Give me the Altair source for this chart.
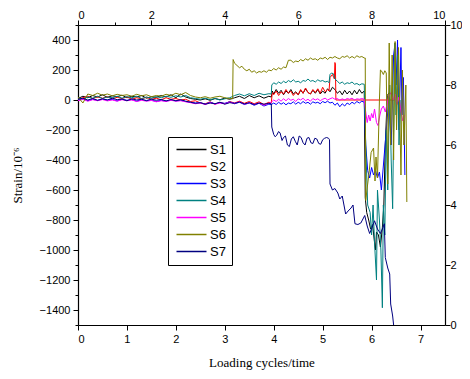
import altair as alt
import pandas as pd

NAMES = ["S1", "S2", "S3", "S4", "S5", "S6", "S7"]
COLORS = ["#000000", "#FF0000", "#0000FF", "#008080", "#FF00FF", "#808000", "#000080"]

XE = [0.0, 0.1, 0.2, 0.3, 0.4, 0.5, 0.6, 0.7, 0.8, 0.9,
      1.0, 1.1, 1.2, 1.3, 1.4, 1.5, 1.6, 1.7, 1.8, 1.9,
      2.0, 2.1, 2.2, 2.3, 2.4, 2.5, 2.6, 2.7, 2.8, 2.9,
      3.0, 3.1, 3.2, 3.3, 3.4, 3.5, 3.6, 3.7, 3.8, 3.9]
XM = [4.0, 4.05, 4.1, 4.15, 4.2, 4.25, 4.3, 4.35, 4.4, 4.45,
      4.5, 4.55, 4.6, 4.65, 4.7, 4.75, 4.8, 4.85, 4.9, 4.95,
      5.0, 5.05, 5.1, 5.15, 5.2, 5.25, 5.3, 5.35, 5.4, 5.45,
      5.5, 5.55, 5.6, 5.65, 5.7, 5.75, 5.8, 5.85]

# S1
s1_early = [10, 25, 15, 30, 20, 35, 18, 28, 22, 32, 15, 25, 20, 30, 12, 22, 18, 30, 20, 35,
            15, 40, 20, 10, 5, 0, 8, -2, 10, 2, 12, 5, 15, 25, 10, 30, 15, 28, 12, 25]
s1_jump_x = [3.95, 3.97]
s1_jump_y = [20, 60]
s1_mid = [40, 70, 45, 65, 35, 60, 45, 70, 40, 55, 35, 65, 45, 75, 50, 40, 65, 45, 70, 40, 60,
          45, 75, 55, 85, 70, 45, 60, 35, 65, 40, 60, 35, 65, 40, 70, 45, 60]
s1_end_x = [5.87, 5.9, 5.94, 5.98, 6.02, 6.06, 6.08, 6.1, 6.14, 6.18, 6.22, 6.25, 6.28, 6.32, 6.36, 6.4]
s1_end_y = [-650, -750, -800, -860, -830, -950, -1000, -880, -900, -980, -850, -700, -300, 30, 50, 40]

# S2
s2_early = [5, 15, 25, 10, 20, 12, 22, 8, 18, 10, 20, 5, 15, 8, 18, 5, 12, 2, 15, 5,
            10, 0, 5, -10, -5, -20, -25, -12, -28, -15, -25, -10, -20, -8, -22, -10, -25, -12, -30, -15]
s2_jump_x = [3.95, 3.97]
s2_jump_y = [-20, 50]
s2_mid = [35, 60, 30, 55, 40, 70, 45, 60, 30, 50, 35, 70, 45, 80, 50, 40, 70, 50, 75, 45, 85, 55, 70]
s2_end_x = [5.13, 5.15, 5.2, 5.24, 5.25, 5.26, 5.27, 6.47]
s2_end_y = [60, 150, 170, 140, 250, 240, 0, 0]

# S3
s3_early = [0, 8, -5, 5, -3, 6, 0, 4, -6, 5, -2, 3, -8, 2, -5, 0, -10, -2, -8, 0,
            -6, -2, -10, -15, -20, -18, -28, -15, -25, -18, -22, -12, -25, -15, -30, -20, -35, -22, -40, -28]
s3_mid = [-30, -20, -30, -15, -28, -18, -32, -20, -25, -12, -28, -15, -25, -10, -22, -15, -28, -12, -20, -15,
          -25, -10, -18, -8, -20, -15, -35, -20, -45, -25, -40, -20, -30, -15, -25, -10, -20, -8, -15]
s3_end_x = [5.88, 5.92, 5.96, 6.0, 6.04, 6.08, 6.12, 6.16, 6.2, 6.25, 6.3, 6.35, 6.4, 6.45, 6.48, 6.5,
            6.53, 6.56, 6.6, 6.62, 6.65, 6.68]
s3_end_y = [-300, -470, -520, -450, -500, -470, -520, -480, -600, -400, -200, 0, -300, 300, 380, 100,
            400, -200, 350, -100, 150, -500]

# S4
s4_early = [15, 5, 20, 12, 25, 10, 20, 15, 25, 12, 22, 15, 25, 10, 20, 12, 22, 15, 25, 18,
            28, 20, 30, 15, 10, 5, 12, 2, 10, 0, 8, 15, 30, 40, 28, 42, 30, 45, 35, 42]
s4_jump_x = [3.95, 3.96]
s4_jump_y = [40, 100]
s4_mid1 = [115, 105, 120, 110, 125, 115, 130, 120, 135, 120, 125, 115, 130, 125, 140, 125, 130, 120,
           135, 125, 130, 120, 125]
s4_spike_x = [5.13, 5.15, 5.18, 5.22, 5.25]
s4_spike_y = [115, 170, 180, 175, 140]
s4_mid2 = [125, 110, 120, 105, 115, 110, 120, 105, 110, 100, 108, 105]
s4_end_x = [5.88, 5.92, 5.97, 6.0, 6.03, 6.06, 6.1, 6.12, 6.16, 6.19, 6.22, 6.24, 6.27, 6.3, 6.33,
            6.37, 6.4, 6.43, 6.47, 6.5, 6.53, 6.56, 6.6]
s4_end_y = [-300, -700, -750, -900, -700, -950, -1200, -600, -800, -1000, -1385, -700, -900, -200, -600,
            100, -400, -725, 380, -100, 300, -300, 0]

# S5
s5_early = [-5, 5, -8, 2, -5, 3, -6, 0, -8, 2, -5, 0, -10, -2, -8, -3, -12, -5, -10, -2,
            -8, -5, -12, -18, -25, -20, -30, -18, -28, -20, -25, -15, -22, -12, -28, -18, -30, -20, -35, -22]
s5_mid = [-15, 0, -10, 5, -8, 8, -5, 10, -2, 5, -10, 8, 0, 12, -5, 5, -8, 10, 0, 8,
          -5, 5, 12, 0, 8, 15, 5, 10, -2, 8, 0, 10, 5, 12, 0, 8, 5, 10, 5]
s5_end_x = [5.88, 5.91, 5.94, 5.97, 6.0, 6.03, 6.06, 6.1, 6.13, 6.17, 6.2, 6.24, 6.28, 6.32, 6.36,
            6.4, 6.44, 6.48, 6.52, 6.56, 6.6, 6.64, 6.67]
s5_end_y = [-80, -150, -100, -140, -90, -120, -60, -150, -170, -100, -60, -40, -80, -20, 30,
            50, 0, 40, -30, 20, -80, -140, -100]

# S6
s6_early = [20, -20, 40, 30, 45, 32, 40, 28, 38, 30, 35, 25, 38, 28, 35, 22, 30, 25, 38, 30,
            45, 35, 50, 30, 20, 15, 22, 12, 20, 25, 15, 10]
s6_jump_x = [3.16, 3.17]
s6_jump_y = [8, 270]
s6_mid_x = [3.2, 3.25, 3.3, 3.35, 3.4, 3.45, 3.5, 3.55, 3.6, 3.65, 3.7, 3.75, 3.8, 3.85, 3.9, 3.95] + XM
s6_mid_y = [245, 230, 215, 225, 205, 195, 205, 185, 195, 180, 190, 185, 195, 185, 200, 195,
            210, 200, 215, 205, 220, 215, 265, 265, 250, 260, 255, 270, 260, 275, 265, 280, 270, 275,
            265, 280, 275, 285, 270, 285, 280, 290, 280, 275, 290, 285, 295, 280, 290, 280, 295, 285, 290, 280]
s6_end_x = [5.87, 5.88, 5.92, 5.95, 5.99, 6.04, 6.07, 6.09, 6.12, 6.16, 6.18, 6.2, 6.24, 6.27, 6.3,
            6.33, 6.36, 6.39, 6.42, 6.45, 6.48, 6.51, 6.55, 6.6, 6.63, 6.66, 6.7, 6.72]
s6_end_y = [280, -670, -560, -480, -350, -320, -540, -380, -520, 0, 200, 195, 170, 195, 180,
            -560, 380, -300, 300, -400, 390, -200, 350, -500, 200, -300, 100, -680]

# S7
s7_early = [5, 12, 0, 10, -2, 8, 0, 12, 2, 6, -5, 8, 0, 5, -4, 6, -2, 4, -6, 3,
            -5, 2, -8, -15, -22, -18, -28, -20, -25, -15, -28, -18, -22, -14, -26, -18, -30, -20, -28, -22]
s7_tail_x = [3.95, 3.96, 4.0, 4.03, 4.06, 4.1, 4.13, 4.17, 4.2, 4.24, 4.28, 4.32, 4.36, 4.4, 4.44,
             4.48, 4.52, 4.56, 4.6, 4.64, 4.68, 4.72, 4.76, 4.8, 4.84, 4.88, 4.92, 4.96, 5.0, 5.04,
             5.08, 5.12, 5.14, 5.15, 5.2, 5.25, 5.31, 5.35, 5.4, 5.47, 5.52, 5.58, 5.62, 5.66, 5.72,
             5.78, 5.86, 5.91, 5.96, 6.01, 6.06, 6.12, 6.18, 6.22, 6.26, 6.28, 6.33, 6.37, 6.39, 6.43, 6.45]
s7_tail_y = [-25, -180, -230, -245, -235, -210, -220, -270, -250, -240, -300, -310, -260, -245, -275,
             -300, -240, -250, -285, -300, -255, -250, -285, -290, -255, -260, -290, -295, -265, -255,
             -250, -255, -265, -560, -600, -590, -620, -660, -640, -760, -740, -720, -700, -825, -830,
             -820, -770, -840, -890, -850, -805, -860, -890, -860, -825, -1050, -1120, -1160, -1360, -1440, -1500]

series = {
    "S1": (XE + s1_jump_x + XM + s1_end_x, s1_early + s1_jump_y + s1_mid + s1_end_y),
    "S2": (XE + s2_jump_x + XM[:23] + s2_end_x, s2_early + s2_jump_y + s2_mid + s2_end_y),
    "S3": (XE + [3.95] + XM + s3_end_x, s3_early + s3_mid + s3_end_y),
    "S4": (XE + s4_jump_x + XM[:23] + s4_spike_x + XM[26:] + s4_end_x,
           s4_early + s4_jump_y + s4_mid1 + s4_spike_y + s4_mid2 + s4_end_y),
    "S5": (XE + [3.95] + XM + s5_end_x, s5_early + s5_mid + s5_end_y),
    "S6": (XE[:32] + s6_jump_x + s6_mid_x + s6_end_x, s6_early + s6_jump_y + s6_mid_y + s6_end_y),
    "S7": (XE + s7_tail_x, s7_early + s7_tail_y),
}

rows = []
for name in NAMES:
    xs, ys = series[name]
    if len(xs) != len(ys):
        raise ValueError(f"{name}: {len(xs)} x vs {len(ys)} y")
    for i, (xv, yv) in enumerate(zip(xs, ys)):
        rows.append({"x": xv, "s": yv, "series": name, "i": i})
df = pd.DataFrame(rows)

BOTTOM_VALS = [0, 0.5, 1, 1.5, 2, 2.5, 3, 3.5, 4, 4.5, 5, 5.5, 6, 6.5, 7]
LEFT_VALS = [-1500, -1400, -1300, -1200, -1100, -1000, -900, -800, -700, -600, -500, -400, -300,
             -200, -100, 0, 100, 200, 300, 400, 500]
TOP_VALS = [0, 1, 2, 3, 4, 5, 6, 7, 8, 9, 10]
RIGHT_VALS = [0, 1, 2, 3, 4, 5, 6, 7, 8, 9, 10]

SANS = "Liberation Sans"
SERIF = "Liberation Serif"

common = dict(grid=False, domainColor="black", tickColor="black", labelColor="black",
              domainWidth=1.2, tickWidth=1, labelFont=SANS, labelFontSize=11,
              titleFont=SERIF, titleFontSize=13, titleFontWeight="normal", titleColor="black")

lines = alt.Chart(df).mark_line(strokeWidth=1, clip=True).encode(
    x=alt.X("x:Q", scale=alt.Scale(domain=[0, 7.5], nice=False, zero=False),
            axis=alt.Axis(orient="bottom", values=BOTTOM_VALS, title="Loading cycles/time", format="d",
                          labelExpr="datum.value % 1 ? '' : datum.label",
                          tickSize={"condition": {"test": "datum.value % 1 != 0", "value": 3}, "value": 5},
                          labelPadding=3, titlePadding=12, **common)),
    y=alt.Y("s:Q", scale=alt.Scale(domain=[-1500, 500], nice=False, zero=False),
            axis=alt.Axis(orient="left", values=LEFT_VALS, title="Strain/10⁻⁶", format="d",
                          labelExpr="datum.value % 200 ? '' : datum.label",
                          tickSize={"condition": {"test": "datum.value % 200 != 0", "value": 3}, "value": 5},
                          labelPadding=3, titlePadding=15, **common)),
    color=alt.Color("series:N", scale=alt.Scale(domain=NAMES, range=COLORS),
                    legend=alt.Legend(orient="none", legendX=90, legendY=112, title=None,
                                      symbolType="M-5,0H5", symbolSize=36, symbolStrokeWidth=1.5,
                                      symbolOffset=11, labelOffset=12, labelFont=SANS,
                                      labelFontSize=13, labelColor="black", rowPadding=3,
                                      padding=6, strokeColor="black", fillColor="white")),
    order="i:Q",
)

frame_df = pd.DataFrame({"tx": [0, 10], "ry": [0, 10]})
frame = alt.Chart(frame_df).mark_point(opacity=0).encode(
    x=alt.X("tx:Q", scale=alt.Scale(domain=[0, 10], nice=False),
            axis=alt.Axis(orient="top", values=TOP_VALS, title=None, format="d",
                          labelExpr="datum.value % 2 ? '' : datum.label",
                          tickSize={"condition": {"test": "datum.value % 2 != 0", "value": 3}, "value": 5},
                          labelPadding=0, **common)),
    y=alt.Y("ry:Q", scale=alt.Scale(domain=[0, 10], nice=False),
            axis=alt.Axis(orient="right", values=RIGHT_VALS, title=None, format="d",
                          labelExpr="datum.value % 2 ? '' : datum.label",
                          tickSize={"condition": {"test": "datum.value % 2 != 0", "value": 3}, "value": 5},
                          labelPadding=0, **common)),
)

chart = alt.layer(lines, frame).resolve_scale(x="independent", y="independent").properties(
    width=367, height=300,
    padding={"left": 70, "top": 17, "right": 17, "bottom": 46},
    autosize=alt.AutoSizeParams(type="none"),
).configure_view(stroke=None)

chart.save("out.html", embed_options={"renderer": "svg", "actions": False})
